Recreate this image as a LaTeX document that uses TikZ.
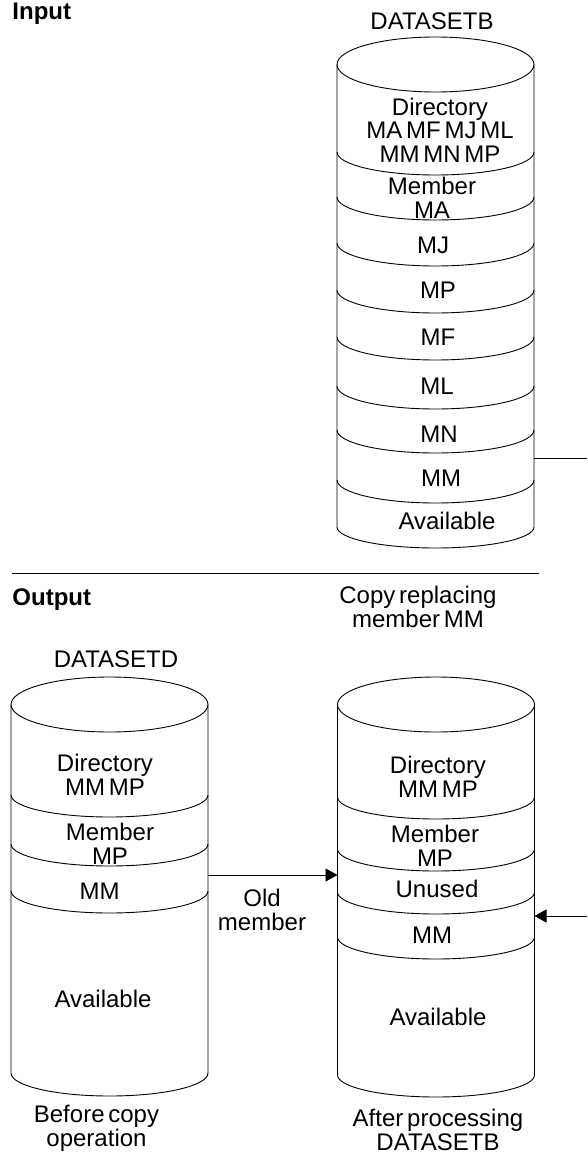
\documentclass[tikz,border=0pt]{standalone}
\usepackage{fontspec}
\setmainfont{Liberation Sans}
\usetikzlibrary{arrows.meta}
\newcommand{\wsp}{\hspace{3.8pt}}

\begin{document}
\begin{tikzpicture}[x=1pt, y=-1pt, line width=0.9pt,
		lbl/.style={anchor=base, align=center, inner sep=0pt, font=\fontsize{24}{23.5}\selectfont},
		ttl/.style={anchor=base west, inner sep=0pt, font=\fontsize{24}{24}\selectfont\bfseries},
		tip/.style={-{Triangle[length=12pt,width=13pt]}}]
		\useasboundingbox (0,0) rectangle (587,1153);
		% input data set
		\draw (435.5,64.5) ellipse [x radius=98.5, y radius=27.5];
		\draw (337,64.5) -- (337,527) arc [start angle=180, end angle=0, x radius=98.5, y radius=21] -- (534,64.5);
		\foreach \s in {152,197,243,290,337,386,430,480} \draw (337,\s) arc [start angle=180, end angle=0, x radius=98.5, y radius=23];
		\node[ttl] (inTitle) at (12,20) {Input};
		\node[lbl] (bName) at (432,30) {DATASETB};
		\node[lbl] (bDir) at (440,162) {Directory\\MA\wsp MF\wsp MJ\wsp ML\\MM\wsp MN\wsp MP};
		\node[lbl] (bMA) at (432,218) {Member\\MA};
		\node[lbl] (bMJ) at (433,253) {MJ};
		\node[lbl] (bMP) at (438,298) {MP};
		\node[lbl] (bMF) at (438,345) {MF};
		\node[lbl] (bML) at (437,394) {ML};
		\node[lbl] (bMN) at (439,442) {MN};
		\node[lbl] (bMM) at (441,486) {MM};
		\node[lbl] (bAv) at (447,529) {Available};
		\coordinate (bOut) at (534,458);
		\coordinate (bRim) at (587,458);
		\draw (bOut) -- (bRim);
		\draw (12,573) -- (539,573);
		% output data set, before
		\node[ttl] (outTitle) at (12,605) {Output};
		\draw (109.5,704.5) ellipse [x radius=98.5, y radius=27.5];
		\draw (11,704.5) -- (11,1073) arc [start angle=180, end angle=0, x radius=98.5, y radius=23] -- (208,704.5);
		\foreach \s in {795,844,891} \draw (11,\s) arc [start angle=180, end angle=0, x radius=98.5, y radius=22];
		\node[lbl] (dName) at (116,667) {DATASETD};
		\node[lbl] (dDir) at (105,795) {Directory\\MM\wsp MP};
		\node[lbl] (dMP) at (110,864) {Member\\MP};
		\node[lbl] (dMM) at (99.5,899) {MM};
		\node[lbl] (dAv) at (103,1007) {Available};
		\node[lbl] (dNote) at (96.5,1146) {Before\wsp copy\\operation};
		% output data set, after
		\node[lbl] (nHead) at (418,627) {Copy\wsp replacing\\member\wsp MM};
		\draw (436,704.5) ellipse [x radius=98.5, y radius=27.5];
		\draw (337.5,704.5) -- (337.5,1075) arc [start angle=180, end angle=0, x radius=98.5, y radius=22] -- (534.5,704.5);
		\foreach \s in {797,849,892,937} \draw (337.5,\s) arc [start angle=180, end angle=0, x radius=98.5, y radius=22];
		\node[lbl] (nDir) at (438,797) {Directory\\MM\wsp MP};
		\node[lbl] (nMP) at (435,866) {Member\\MP};
		\node[lbl] (nUn) at (437,897) {Unused};
		\node[lbl] (nMM) at (432,943) {MM};
		\node[lbl] (nAv) at (438,1025) {Available};
		\node[lbl] (nNote) at (438,1150) {After\wsp processing\\DATASETB};
		% connectors
		\coordinate (dOut) at (208,875);
		\coordinate (nIn) at (337.5,875);
		\draw[tip] (dOut) -- (nIn);
		\node[lbl] (oldMem) at (262,930) {Old\\member};
		\coordinate (nRim) at (587,916);
		\coordinate (nMMin) at (534.5,916);
		\draw[tip] (nRim) -- (nMMin);
		\end{tikzpicture}
\end{document}
